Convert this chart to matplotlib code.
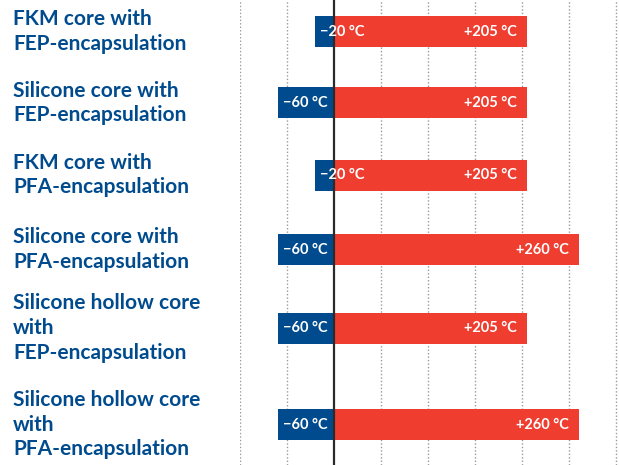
import numpy as np
import matplotlib.pyplot as plt

# data
labels = [
    "FKM core with\nFEP-encapsulation",
    "Silicone core with\nFEP-encapsulation",
    "FKM core with\nPFA-encapsulation",
    "Silicone core with\nPFA-encapsulation",
    "Silicone hollow core\nwith\nFEP-encapsulation",
    "Silicone hollow core\nwith\nPFA-encapsulation",
]
t_min = [-20, -60, -20, -60, -60, -60]
t_max = [205, 205, 205, 260, 205, 260]

# row centres in pixel-like units (figure is 465 px tall)
rows = [31.5, 103, 175, 249.5, 328, 424.5]
grid_ticks = np.arange(-100, 301, 50)

BLUE = "#004b8d"
RED = "#ef3e30"
FONT = "Lato"

fig = plt.figure(figsize=(6.19, 4.65), dpi=100)
ax = fig.add_axes([240 / 619, 0, 379 / 619, 1])
ax.set_xlim(-100, 303)
ax.set_ylim(465, 0)
ax.axis("off")

for g in grid_ticks:
    if g == 0:
        continue
    ax.axvline(g, color="#9a9a9a", lw=1.0, ls=(0, (1, 1.5)), zorder=0)

bar_h = 31
ax.barh(rows, t_min, height=bar_h, color=BLUE, zorder=2)
ax.barh(rows, t_max, height=bar_h, color=RED, zorder=2)
ax.axvline(0, color="#2b2b2b", lw=1.6, zorder=3)

for y, lo, hi, lab in zip(rows, t_min, t_max, labels):
    ax.annotate(f"\u2212{abs(lo)} °C", xy=(lo, y), xytext=(5, 0),
                textcoords="offset pixels", ha="left", va="center",
                color="white", fontsize=10.5, fontweight="bold",
                family=FONT, zorder=4)
    ax.annotate(f"+{hi} °C", xy=(hi, y), xytext=(-10, 0),
                textcoords="offset pixels", ha="right", va="center",
                color="white", fontsize=10.5, fontweight="bold",
                family=FONT, zorder=4)
    fig.text(13 / 619, 1 - y / 465, lab, ha="left", va="center",
             color=BLUE, fontsize=15, fontweight="bold", family=FONT,
             linespacing=1.3)

fig.savefig("out.png", dpi=100)
